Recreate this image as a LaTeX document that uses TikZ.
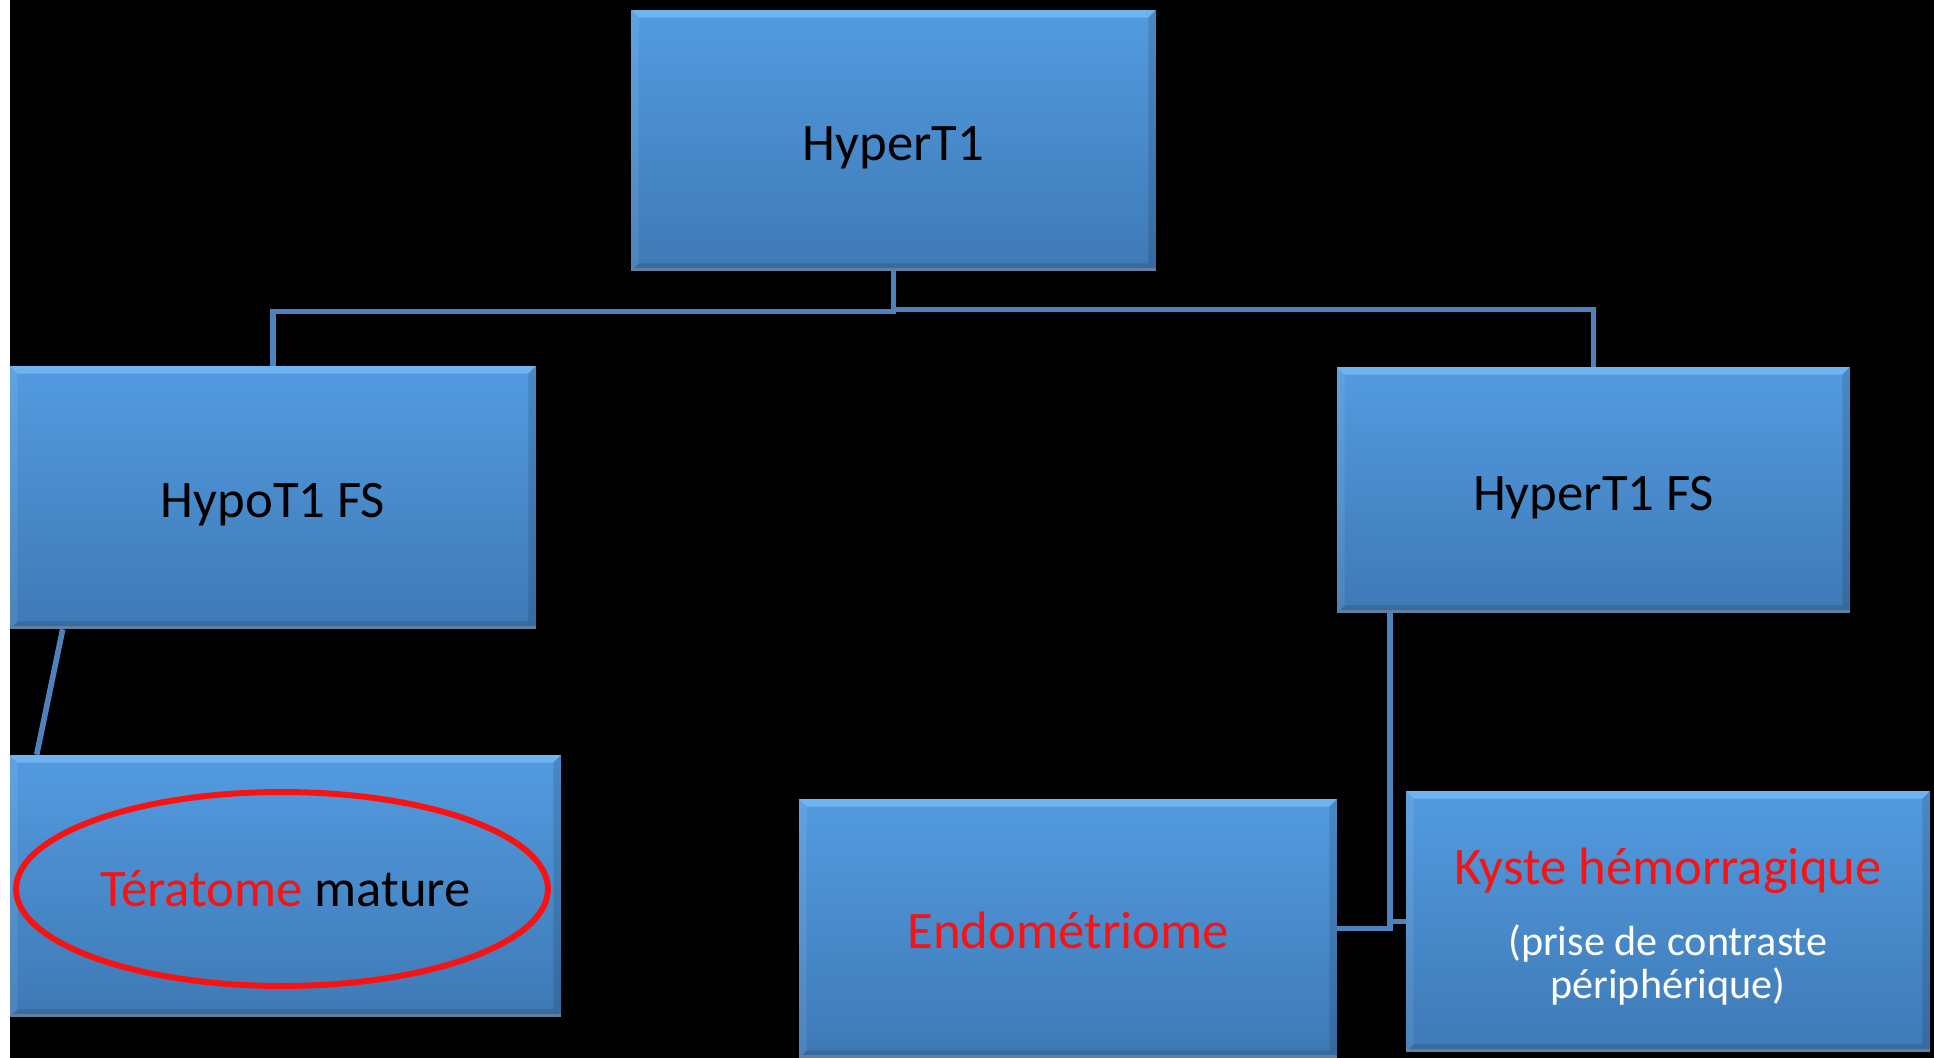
\documentclass[tikz,border=0pt]{standalone}
\usepackage{fontspec}
\setmainfont{Carlito}
\definecolor{boxtop}{RGB}{83,155,224}
\definecolor{boxbot}{RGB}{62,121,181}
\definecolor{bevhi}{RGB}{110,180,243}
\definecolor{bevlo}{RGB}{55,106,158}
\definecolor{rim}{RGB}{98,128,158}
\definecolor{link}{RGB}{79,129,189}
\definecolor{kred}{RGB}{250,18,18}

\begin{document}
\begin{tikzpicture}[x=0.02cm,y=-0.02cm,
      font=\fontsize{30}{36}\selectfont,
      box/.style={inner sep=0pt,align=center,text=black,minimum width=10.5cm,minimum height=5.22cm,
                  text height=29pt,text depth=6pt,
                  top color=boxtop,bottom color=boxbot,
                  path picture={
                    \fill[bevhi] (path picture bounding box.north west) -- (path picture bounding box.north east)
                      -- ([shift={(-1.5mm,-1.5mm)}]path picture bounding box.north east)
                      -- ([shift={(1.5mm,-1.5mm)}]path picture bounding box.north west) -- cycle;
                    \fill[bevlo] (path picture bounding box.south west) -- (path picture bounding box.south east)
                      -- ([shift={(-1.5mm,1.5mm)}]path picture bounding box.south east)
                      -- ([shift={(1.5mm,1.5mm)}]path picture bounding box.south west) -- cycle;
                    \fill[white,opacity=.08] (path picture bounding box.north west) -- ([shift={(1.5mm,-1.5mm)}]path picture bounding box.north west)
                      -- ([shift={(1.5mm,1.5mm)}]path picture bounding box.south west) -- (path picture bounding box.south west) -- cycle;
                    \fill[black,opacity=.12] (path picture bounding box.north east) -- ([shift={(-1.5mm,-1.5mm)}]path picture bounding box.north east)
                      -- ([shift={(-1.5mm,1.5mm)}]path picture bounding box.south east) -- (path picture bounding box.south east) -- cycle;
                    \fill[rim] (path picture bounding box.south west) rectangle ([yshift=0.6mm]path picture bounding box.south east);}},
      link/.style={draw=link,line width=3.2pt},
      ring/.style={draw=kred,line width=3.4pt}]
      \useasboundingbox (0,0) rectangle (1934,1058);
      \fill[black] (10,0) rectangle (1934,1058);
      \fill[white] (0,0) rectangle (10,1058);
      \node[box] (top) at (893.5,140.5) {HyperT1};
      \node[box,minimum width=10.52cm,minimum height=5.26cm] (hypo) at (273,497.5) {HypoT1 FS};
      \node[box,minimum width=10.26cm,minimum height=4.92cm] (hyperfs) at (1593.5,490) {HyperT1 FS};
      \node[box,minimum width=11.02cm,minimum height=5.24cm] (terat) at (285.5,886) {{\color{kred}Tératome} mature};
      \node[box,minimum width=10.76cm,minimum height=5.18cm,text=kred] (endo) at (1068,928.5) {Endométriome};
      \node[box,minimum width=10.48cm,text=white,text height=,text depth=,font=\fontsize{24}{24.5}\selectfont] (kyste) at (1668,921.5)
        {{\fontsize{30}{30}\selectfont\color{kred}\rule{0pt}{27pt}Kyste hémorragique}\\[16pt](prise de contraste\\périphérique)};
      \draw[ring] ([shift={(-0.07cm,-0.06cm)}]terat.center) ellipse [x radius=5.32cm,y radius=1.94cm];
      \draw[link] (top.south) -- ++(0,40) -| (hypo.north);
      \draw[link] (top.south) -- ++(0,38) -| (hyperfs.north);
      \draw[link] ([xshift=1.06cm]hypo.south west) -- ([xshift=0.54cm]terat.north west);
      \draw[link] ([xshift=1.06cm]hyperfs.south west) |- (endo.east);
      \draw[link] ([xshift=1.06cm]hyperfs.south west) |- (kyste.west);
    \end{tikzpicture}
\end{document}
